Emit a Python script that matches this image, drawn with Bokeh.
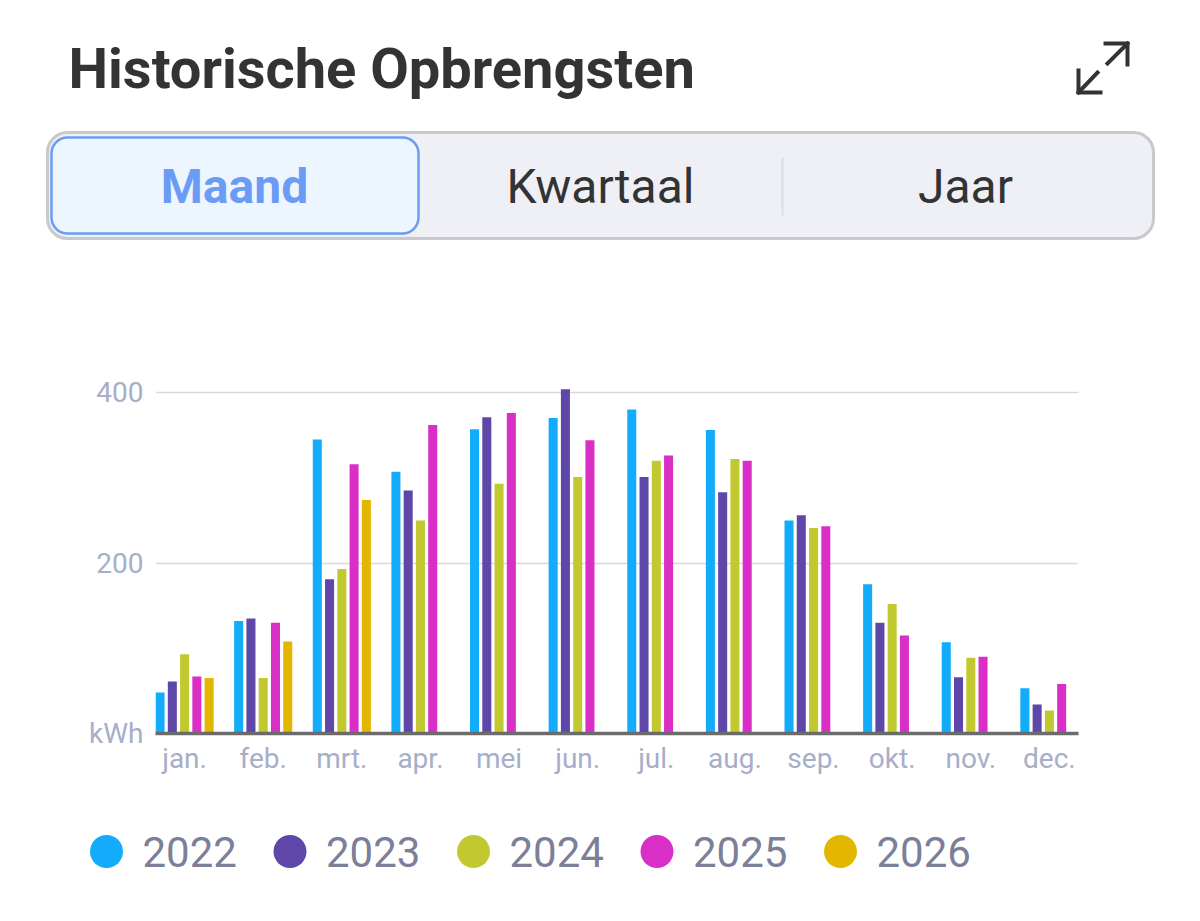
import numpy as np
from bokeh.plotting import figure
from bokeh.models import Range1d, FixedTicker, BoxAnnotation, ColumnDataSource
from bokeh.layouts import column
from bokeh.core.properties import value
from bokeh.embed import file_html
from bokeh.resources import INLINE

# ---------------- data ----------------
months = ["jan.", "feb.", "mrt.", "apr.", "mei", "jun.", "jul.", "aug.", "sep.", "okt.", "nov.", "dec."]
years = ["2022", "2023", "2024", "2025", "2026"]
colors = ["#12acfb", "#5f47a9", "#c2c930", "#d92fc6", "#e3b700"]
y2022 = [48, 132, 345, 307, 357, 370, 380, 356, 250, 175, 107, 53]
y2023 = [61, 135, 181, 285, 371, 404, 301, 283, 256, 130, 66, 34]
y2024 = [93, 65, 193, 250, 293, 301, 320, 322, 241, 152, 89, 27]
y2025 = [67, 130, 316, 362, 376, 344, 326, 320, 243, 115, 90, 58]
y2026 = [65, 108, 274]
series = [y2022, y2023, y2024, y2025, y2026]
y_ticks = [0, 200, 400]
y_tick_labels = ["kWh", "200", "400"]

W = 1200
AXIS_COLOR = "#a6aec9"

def clean(fig):
    fig.axis.visible = False
    fig.grid.visible = False
    fig.outline_line_color = None
    fig.background_fill_color = "white"
    fig.border_fill_color = "white"
    fig.frame_align = False

# ---------------- header ----------------
HH = 270  # header covers image y 0..270
def Y(iy):
    return HH - iy

hdr = figure(width=W, height=HH, output_backend="svg", toolbar_location=None,
             x_range=Range1d(0, W), y_range=Range1d(0, HH), min_border=0)
clean(hdr)

hdr.text(x=[68], y=[Y(68)], text=["Historische Opbrengsten"],
         text_font=value("Roboto"), text_font_style="bold", text_font_size="56px",
         text_color="#333333", text_baseline="middle", text_align="left")

# expand icon
hdr.multi_line(xs=[[1105, 1127, 1127], [1127, 1107], [1100, 1078, 1078], [1078, 1097]],
               ys=[[Y(43), Y(43), Y(64)], [Y(43), Y(63)], [Y(92), Y(92), Y(70)], [Y(92), Y(72)]],
               line_color="#333333", line_width=4, line_cap="square", line_join="miter")

# segmented control
outer = BoxAnnotation(left=47, right=1153, top=Y(132), bottom=Y(238),
                      fill_color="#eff0f5", fill_alpha=1, line_color="#c9c9cd",
                      line_alpha=1, line_width=3, border_radius=20, level="underlay")
sel = BoxAnnotation(left=51, right=418, top=Y(137), bottom=Y(233),
                    fill_color="#edf5fe", fill_alpha=1, line_color="#6b9cf2",
                    line_alpha=1, line_width=2.5, border_radius=16, level="underlay")
hdr.add_layout(outer)
hdr.add_layout(sel)
hdr.segment(x0=[782], y0=[Y(157)], x1=[782], y1=[Y(215)], line_color="#dcdde2", line_width=2)

hdr.text(x=[234], y=[Y(186)], text=["Maand"], text_font=value("Roboto"),
         text_font_style="bold", text_font_size="48px", text_color="#6a9cf5",
         text_baseline="middle", text_align="center")
hdr.text(x=[600, 965], y=[Y(186), Y(186)], text=["Kwartaal", "Jaar"],
         text_font=value("Roboto"), text_font_size="48px", text_color="#333333",
         text_baseline="middle", text_align="center")

# ---------------- chart ----------------
CH = 530  # image y 270..800
n_slots = len(years)
slot = 0.156
bar_w = 0.115
p = figure(width=W, height=CH, output_backend="svg", toolbar_location=None,
           x_range=Range1d(-0.37, 11.37), y_range=Range1d(0, 420),
           min_border_left=155, min_border_right=122, min_border_top=105, min_border_bottom=67)
p.outline_line_color = None
p.background_fill_color = "white"
p.border_fill_color = "white"
p.frame_align = False

base = np.arange(len(months))
for i, (yr, vals, c) in enumerate(zip(years, series, colors)):
    xs = base[:len(vals)] + (i - (n_slots - 1) / 2) * slot
    src = ColumnDataSource(dict(x=xs, top=vals))
    p.vbar(x="x", top="top", bottom=0, width=bar_w, source=src, fill_color=c, line_color=None)

p.xgrid.visible = False
p.ygrid.ticker = FixedTicker(ticks=[t for t in y_ticks if t > 0])
p.ygrid.grid_line_color = "#d9d9dc"
p.ygrid.grid_line_width = 1.5

p.yaxis.ticker = FixedTicker(ticks=y_ticks)
p.yaxis.major_label_overrides = {t: l for t, l in zip(y_ticks, y_tick_labels)}
p.yaxis.axis_line_color = None
p.yaxis.major_tick_line_color = None
p.yaxis.minor_tick_line_color = None
p.yaxis.major_tick_out = 0
p.yaxis.major_label_standoff = 12
p.yaxis.major_label_text_font = "Roboto"
p.yaxis.major_label_text_font_size = "28px"
p.yaxis.major_label_text_color = AXIS_COLOR

p.xaxis.ticker = FixedTicker(ticks=list(base))
p.xaxis.major_label_overrides = {int(i): m for i, m in zip(base, months)}
p.xaxis.axis_line_color = "#6b6b6b"
p.xaxis.axis_line_width = 3.5
p.xaxis.major_tick_line_color = None
p.xaxis.minor_tick_line_color = None
p.xaxis.major_tick_out = 0
p.xaxis.major_tick_in = 0
p.xaxis.major_label_standoff = 8
p.xaxis.major_label_text_font = "Roboto"
p.xaxis.major_label_text_font_size = "28px"
p.xaxis.major_label_text_color = AXIS_COLOR

# ---------------- legend ----------------
LH = 110  # image y 800..910
lg = figure(width=W, height=LH, output_backend="svg", toolbar_location=None,
            x_range=Range1d(0, W), y_range=Range1d(0, LH), min_border=0)
clean(lg)
step = 183.5
cx = [106 + k * step for k in range(len(years))]
cy = [910 - 851] * len(years)
lg.scatter(x=cx, y=cy, size=33, marker="circle", fill_color=colors, line_color=None)
lg.text(x=[c + 36 for c in cx], y=cy, text=years, text_font=value("Roboto"),
        text_font_size="42px", text_color="#7b7f98", text_baseline="middle", text_align="left")

layout = column(hdr, p, lg, spacing=0)
open("out.html", "w").write(file_html(layout, INLINE))
